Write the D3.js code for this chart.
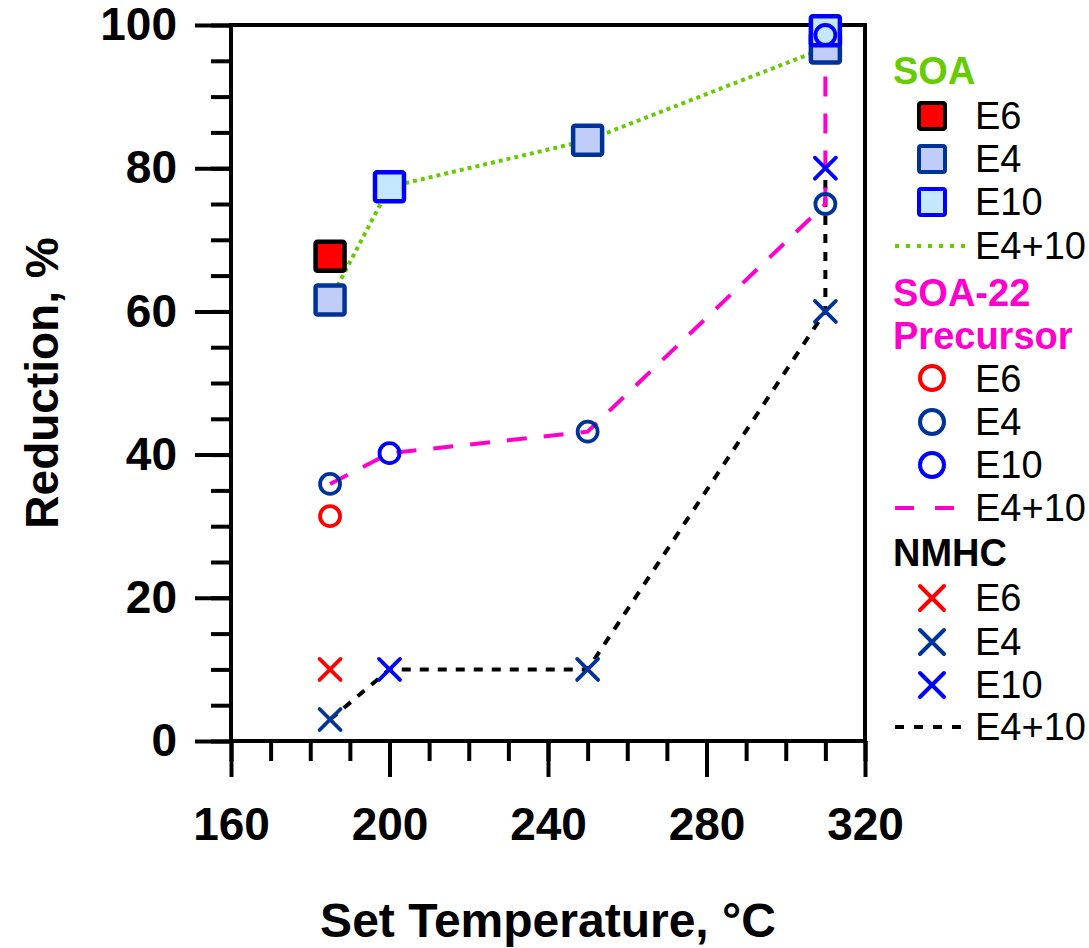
<!DOCTYPE html>
<html>
<head>
<meta charset="utf-8">
<script src="https://cdn.jsdelivr.net/npm/d3@7"></script>
<style>
  body { margin: 0; background: #fff; }
  svg { display: block; font-family: "Liberation Sans", Arial, sans-serif; }
</style>
</head>
<body>
<div id="chart"></div>
<script>
// Data
var temps = [185, 200, 250, 310];

// SOA reduction (%)
var soaE6 = [{t: 185, v: 67.7}];
var soaE4 = [{t: 185, v: 61.6}, {t: 250, v: 83.9}, {t: 310, v: 96.8}];
var soaE10 = [{t: 200, v: 77.4}, {t: 310, v: 99.2}];
var soaFit = [{t: 185, v: 61.6}, {t: 200, v: 77.4}, {t: 250, v: 83.9}, {t: 310, v: 96.8}, {t: 310, v: 99.2}];

// SOA-22 precursor reduction (%)
var precE6 = [{t: 185, v: 31.4}];
var precE4 = [{t: 185, v: 35.9}, {t: 250, v: 43.2}, {t: 310, v: 75.0}];
var precE10 = [{t: 200, v: 40.2}, {t: 310, v: 98.6}];
var precFit = [{t: 185, v: 35.9}, {t: 200, v: 40.2}, {t: 250, v: 43.2}, {t: 310, v: 75.0}, {t: 310, v: 98.6}];

// NMHC reduction (%)
var nmhcE6 = [{t: 185, v: 10}];
var nmhcE4 = [{t: 185, v: 3}, {t: 250, v: 10}, {t: 310, v: 60}];
var nmhcE10 = [{t: 200, v: 10}, {t: 310, v: 80}];
var nmhcFit = [{t: 185, v: 3}, {t: 200, v: 10}, {t: 250, v: 10}, {t: 310, v: 60}, {t: 310, v: 80}];

var xTicks = [160, 200, 240, 280, 320];
var yTicks = [0, 20, 40, 60, 80, 100];

// colours
var green = "#66cc00", magenta = "#ff00cc", navy = "#003399", blue = "#0000ff", red = "#ff0000";

var svgWidth = 1089, svgHeight = 948;
var plotLeft = 231, plotRight = 865, plotTop = 25, plotBottom = 741;

var svg = d3.select("#chart").append("svg")
  .attr("width", svgWidth)
  .attr("height", svgHeight);

var x = d3.scaleLinear().domain([160, 320]).range([plotLeft, plotRight]);
var y = d3.scaleLinear().domain([0, 100]).range([plotBottom, plotTop]);

// minor ticks
svg.append("g")
  .attr("transform", `translate(0, ${plotBottom})`)
  .call(d3.axisBottom(x).tickValues(d3.range(160, 321, 10)).tickSize(20).tickFormat(""))
  .call(g => g.select(".domain").remove())
  .selectAll("line").attr("stroke", "#000").attr("stroke-width", 4);

svg.append("g")
  .attr("transform", `translate(${plotLeft}, 0)`)
  .call(d3.axisLeft(y).tickValues(d3.range(0, 101, 5)).tickSize(20).tickFormat(""))
  .call(g => g.select(".domain").remove())
  .selectAll("line").attr("stroke", "#000").attr("stroke-width", 4);

// major ticks + labels
var xAxis = svg.append("g")
  .attr("transform", `translate(0, ${plotBottom})`)
  .call(d3.axisBottom(x).tickValues(xTicks).tickSize(36).tickPadding(30).tickSizeOuter(0));
xAxis.select(".domain").remove();
xAxis.selectAll("line").attr("stroke", "#000").attr("stroke-width", 4);
xAxis.selectAll("text")
  .attr("fill", "#000")
  .attr("font-size", "46px")
  .attr("font-weight", "bold")
  .attr("font-family", "Liberation Sans, Arial, sans-serif");

var yAxis = svg.append("g")
  .attr("transform", `translate(${plotLeft}, 0)`)
  .call(d3.axisLeft(y).tickValues(yTicks).tickSize(36).tickPadding(18).tickSizeOuter(0));
yAxis.select(".domain").remove();
yAxis.selectAll("line").attr("stroke", "#000").attr("stroke-width", 4);
yAxis.selectAll("text")
  .attr("fill", "#000")
  .attr("font-size", "46px")
  .attr("font-weight", "bold")
  .attr("font-family", "Liberation Sans, Arial, sans-serif");

// frame
svg.append("path")
  .attr("d", `M${plotLeft},${plotTop - 2}V${plotBottom}H${plotRight}V${plotTop}H${plotLeft}`)
  .attr("fill", "none")
  .attr("stroke", "#000")
  .attr("stroke-width", 4)
  .attr("stroke-linejoin", "miter");

// axis titles
svg.append("text")
  .attr("transform", `translate(58, ${(plotTop + plotBottom) / 2}) rotate(-90)`)
  .attr("text-anchor", "middle")
  .attr("font-size", "46px")
  .attr("font-weight", "bold")
  .text("Reduction, %");

svg.append("text")
  .attr("x", 548)
  .attr("y", 937)
  .attr("text-anchor", "middle")
  .attr("font-size", "48px")
  .attr("font-weight", "bold")
  .text("Set Temperature, °C");

// lines
var line = d3.line().x(d => x(d.t)).y(d => y(d.v));

svg.append("path").datum(nmhcFit)
  .attr("d", line).attr("fill", "none")
  .attr("stroke", "#000").attr("stroke-width", 4).attr("stroke-dasharray", "9,9");

svg.append("path").datum(precFit)
  .attr("d", line).attr("fill", "none")
  .attr("stroke", magenta).attr("stroke-width", 4).attr("stroke-dasharray", "20,17");

svg.append("path").datum(soaFit)
  .attr("d", line).attr("fill", "none")
  .attr("stroke", green).attr("stroke-width", 4).attr("stroke-dasharray", "4,4");

// marker helpers
function drawSquares(g, data, fill, stroke, size) {
  g.selectAll(null).data(data).enter().append("rect")
    .attr("x", d => x(d.t) - size / 2)
    .attr("y", d => y(d.v) - size / 2)
    .attr("width", size).attr("height", size)
    .attr("rx", 2)
    .attr("fill", fill).attr("stroke", stroke).attr("stroke-width", 4.5);
}
function drawCircles(g, data, stroke) {
  g.selectAll(null).data(data).enter().append("circle")
    .attr("cx", d => x(d.t)).attr("cy", d => y(d.v))
    .attr("r", 10)
    .attr("fill", "none").attr("stroke", stroke).attr("stroke-width", 3.8);
}
function crossPath(cx, cy, h) {
  return `M${cx - h},${cy - h}L${cx + h},${cy + h}M${cx - h},${cy + h}L${cx + h},${cy - h}`;
}
function drawCrosses(g, data, stroke) {
  g.selectAll(null).data(data).enter().append("path")
    .attr("d", d => crossPath(x(d.t), y(d.v), 10.5))
    .attr("fill", "none").attr("stroke", stroke).attr("stroke-width", 3.8)
    .attr("stroke-linecap", "round");
}

var marks = svg.append("g");
drawCrosses(marks, nmhcE6, red);
drawCrosses(marks, nmhcE4, navy);
drawCrosses(marks, nmhcE10, blue);
drawSquares(marks, soaE6, red, "#000", 29);
drawSquares(marks, soaE4, "#c0cdf8", navy, 29);
drawSquares(marks, soaE10, "#c6e8ff", blue, 29);
drawCircles(marks, precE6, red);
drawCircles(marks, precE4, navy);
drawCircles(marks, precE10, blue);

// legend
var legend = svg.append("g");
var lx = 932, tx = 975;

function header(label, color, base) {
  legend.append("text").attr("x", 893).attr("y", base)
    .attr("font-size", "38px").attr("font-weight", "bold").attr("fill", color).text(label);
}
function label(text, base) {
  legend.append("text").attr("x", tx).attr("y", base)
    .attr("font-size", "38px").attr("fill", "#000").text(text);
}
function legSquare(cy, fill, stroke) {
  legend.append("rect").attr("x", lx - 13).attr("y", cy - 13)
    .attr("width", 26).attr("height", 26).attr("rx", 2)
    .attr("fill", fill).attr("stroke", stroke).attr("stroke-width", 4);
}
function legCircle(cy, stroke) {
  legend.append("circle").attr("cx", lx).attr("cy", cy).attr("r", 12)
    .attr("fill", "none").attr("stroke", stroke).attr("stroke-width", 4);
}
function legCross(cy, stroke) {
  legend.append("path").attr("d", crossPath(lx, cy, 12))
    .attr("fill", "none").attr("stroke", stroke).attr("stroke-width", 4).attr("stroke-linecap", "round");
}
function legLine(cy, x2, color, dash) {
  legend.append("line").attr("x1", 895).attr("x2", x2).attr("y1", cy).attr("y2", cy)
    .attr("stroke", color).attr("stroke-width", 4).attr("stroke-dasharray", dash);
}

header("SOA", green, 84);
legSquare(116, red, "#000"); label("E6", 129);
legSquare(159, "#c0cdf8", navy); label("E4", 172);
legSquare(202, "#c6e8ff", blue); label("E10", 215);
legLine(246, 970, green, "4,7"); label("E4+10", 259);

header("SOA-22", magenta, 306);
header("Precursor", magenta, 349);
legCircle(378, red); label("E6", 392);
legCircle(422, navy); label("E4", 435);
legCircle(465, blue); label("E10", 478);
legLine(508, 954, magenta, "19,21"); label("E4+10", 521);

header("NMHC", "#000", 566);
legCross(598, red); label("E6", 611);
legCross(642, navy); label("E4", 655);
legCross(685, blue); label("E10", 698);
legLine(727, 961, "#000", "9,10"); label("E4+10", 740);
</script>
</body>
</html>
